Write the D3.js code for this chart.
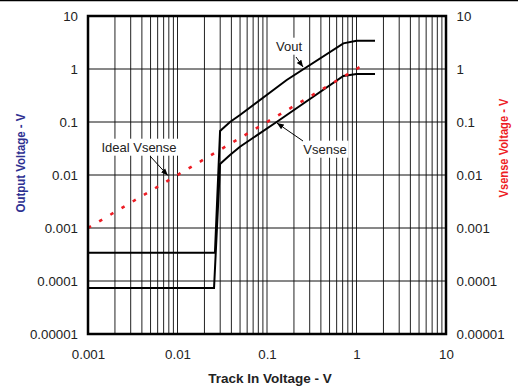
<!DOCTYPE html>
<html><head><meta charset="utf-8">
<script src="https://cdn.jsdelivr.net/npm/d3@7"></script>
<style>
html,body{margin:0;padding:0;background:#fff;}
svg{display:block;font-family:"Liberation Sans",Arial,sans-serif;}
</style></head>
<body><svg id="c" width="518" height="389"></svg>
<script>
// ---- data ----
const xTickValues = [0.001, 0.01, 0.1, 1, 10];
const xTickLabels = ["0.001", "0.01", "0.1", "1", "10"];
const yTickValues = [0.00001, 0.0001, 0.001, 0.01, 0.1, 1, 10];
const yTickLabels = ["0.00001", "0.0001", "0.001", "0.01", "0.1", "1", "10"];

const voutX = [0.001, 0.0262, 0.0299, 0.0386, 0.0499, 0.166, 0.713, 1.0, 1.61];
const voutY = [0.00034, 0.00034, 0.0676, 0.100, 0.1355, 0.62, 3.05, 3.42, 3.42];

const vsenseX = [0.001, 0.0256, 0.0299, 0.0386, 0.0499, 0.128, 0.713, 1.0, 1.61];
const vsenseY = [0.000074, 0.000074, 0.0161, 0.0238, 0.0342, 0.1, 0.738, 0.805, 0.805];

const idealX = [0.001, 1.3];
const idealY = [0.001, 1.3];

const labels = ["Vout", "Vsense", "Ideal Vsense"];
const labelTipX = [0.253, 0.129, 0.0078];
const labelTipY = [1.09, 0.0957, 0.0098];

// ---- layout ----
const svg = d3.select("#c");
const L = 88, R = 446, T = 16, B = 334;
const x = d3.scaleLog().domain([0.001, 10]).range([L, R]);
const y = d3.scaleLog().domain([0.00001, 10]).range([B, T]);

// top rule
svg.append("line").attr("x1", 0).attr("x2", 518).attr("y1", 0.5).attr("y2", 0.5)
  .attr("stroke", "#000").attr("stroke-width", 1.5);

// grid
const g = svg.append("g");
g.selectAll("line.vx").data(x.ticks()).join("line")
  .attr("x1", d => x(d)).attr("x2", d => x(d)).attr("y1", T).attr("y2", B)
  .attr("stroke", "#222").attr("stroke-width", 1);
g.selectAll("line.hy").data(yTickValues).join("line")
  .attr("y1", d => y(d)).attr("y2", d => y(d)).attr("x1", L).attr("x2", R)
  .attr("stroke", "#111").attr("stroke-width", 1);

// axes text
const fmtX = d => xTickLabels[xTickValues.indexOf(d)];
const fmtY = d => yTickLabels[yTickValues.findIndex(v => Math.abs(Math.log10(v) - Math.log10(d)) < 1e-6)];
const ax = svg.append("g").attr("transform", `translate(0,${B + 13})`)
  .call(d3.axisBottom(x).tickValues(xTickValues).tickFormat(fmtX).tickSize(0));
const ayl = svg.append("g").attr("transform", `translate(${L - 10},0)`)
  .call(d3.axisLeft(y).tickValues(yTickValues).tickFormat(fmtY).tickSize(0));
const ayr = svg.append("g").attr("transform", `translate(${R + 10.5},0)`)
  .call(d3.axisRight(y).tickValues(yTickValues).tickFormat(fmtY).tickSize(0));
[ax, ayl, ayr].forEach(a => {
  a.select(".domain").remove();
  a.selectAll("text").attr("font-size", 13.3).attr("fill", "#222")
    .attr("font-family", "Liberation Sans, Arial, sans-serif");
});
ayl.selectAll("text").attr("x", 0);
ayr.selectAll("text").attr("x", 0);

// titles
svg.append("text").attr("x", 270).attr("y", 383).attr("text-anchor", "middle")
  .attr("font-size", 13.5).attr("font-weight", "bold").attr("fill", "#222")
  .text("Track In Voltage - V");
svg.append("text").attr("transform", "translate(25,163) rotate(-90)").attr("text-anchor", "middle")
  .attr("font-size", 13).attr("font-weight", "bold").attr("fill", "#2e3192")
  .attr("textLength", 99).attr("lengthAdjust", "spacingAndGlyphs")
  .text("Output Voltage - V");
svg.append("text").attr("transform", "translate(508,148) rotate(-90)").attr("text-anchor", "middle")
  .attr("font-size", 13).attr("font-weight", "bold").attr("fill", "#ed1c24")
  .attr("textLength", 99).attr("lengthAdjust", "spacingAndGlyphs")
  .text("Vsense Voltage - V");

// curves
const line = d3.line().x(d => x(d[0])).y(d => y(d[1]));
svg.append("path").datum(d3.zip(voutX, voutY)).attr("d", line)
  .attr("fill", "none").attr("stroke", "#000").attr("stroke-width", 2);
svg.append("path").datum(d3.zip(vsenseX, vsenseY)).attr("d", line)
  .attr("fill", "none").attr("stroke", "#000").attr("stroke-width", 2);
svg.append("path").datum(d3.zip(idealX, idealY)).attr("d", line)
  .attr("fill", "none").attr("stroke", "#ed1c24").attr("stroke-width", 2.6)
  .attr("stroke-dasharray", "3.5,9.5");

// border
svg.append("rect").attr("x", L).attr("y", T).attr("width", R - L).attr("height", B - T)
  .attr("fill", "none").attr("stroke", "#000").attr("stroke-width", 2.5);

// annotations
const defs = svg.append("defs");
defs.append("marker").attr("id", "ah").attr("viewBox", "0 0 10 10").attr("refX", 10).attr("refY", 5)
  .attr("markerWidth", 7).attr("markerHeight", 7).attr("orient", "auto")
  .append("path").attr("d", "M0,1 L10,5 L0,9 z").attr("fill", "#000");

const labelPos = [[289, 46], [325, 149], [139, 147]];
const arrowStart = [[296, 57], [303, 141], [150, 156]];
labels.forEach((t, i) => {
  const tx = svg.append("text").attr("x", labelPos[i][0]).attr("y", labelPos[i][1] + 4.7)
    .attr("text-anchor", "middle").attr("font-size", 13).attr("fill", "#222").text(t);
  const bb = tx.node().getBBox();
  svg.insert("rect", () => tx.node()).attr("x", bb.x - 2).attr("y", bb.y - 1)
    .attr("width", bb.width + 4).attr("height", bb.height + 2).attr("fill", "#fff");
  svg.append("line").attr("x1", arrowStart[i][0]).attr("y1", arrowStart[i][1])
    .attr("x2", x(labelTipX[i])).attr("y2", y(labelTipY[i]))
    .attr("stroke", "#000").attr("stroke-width", 1).attr("marker-end", "url(#ah)");
});
</script></body></html>
